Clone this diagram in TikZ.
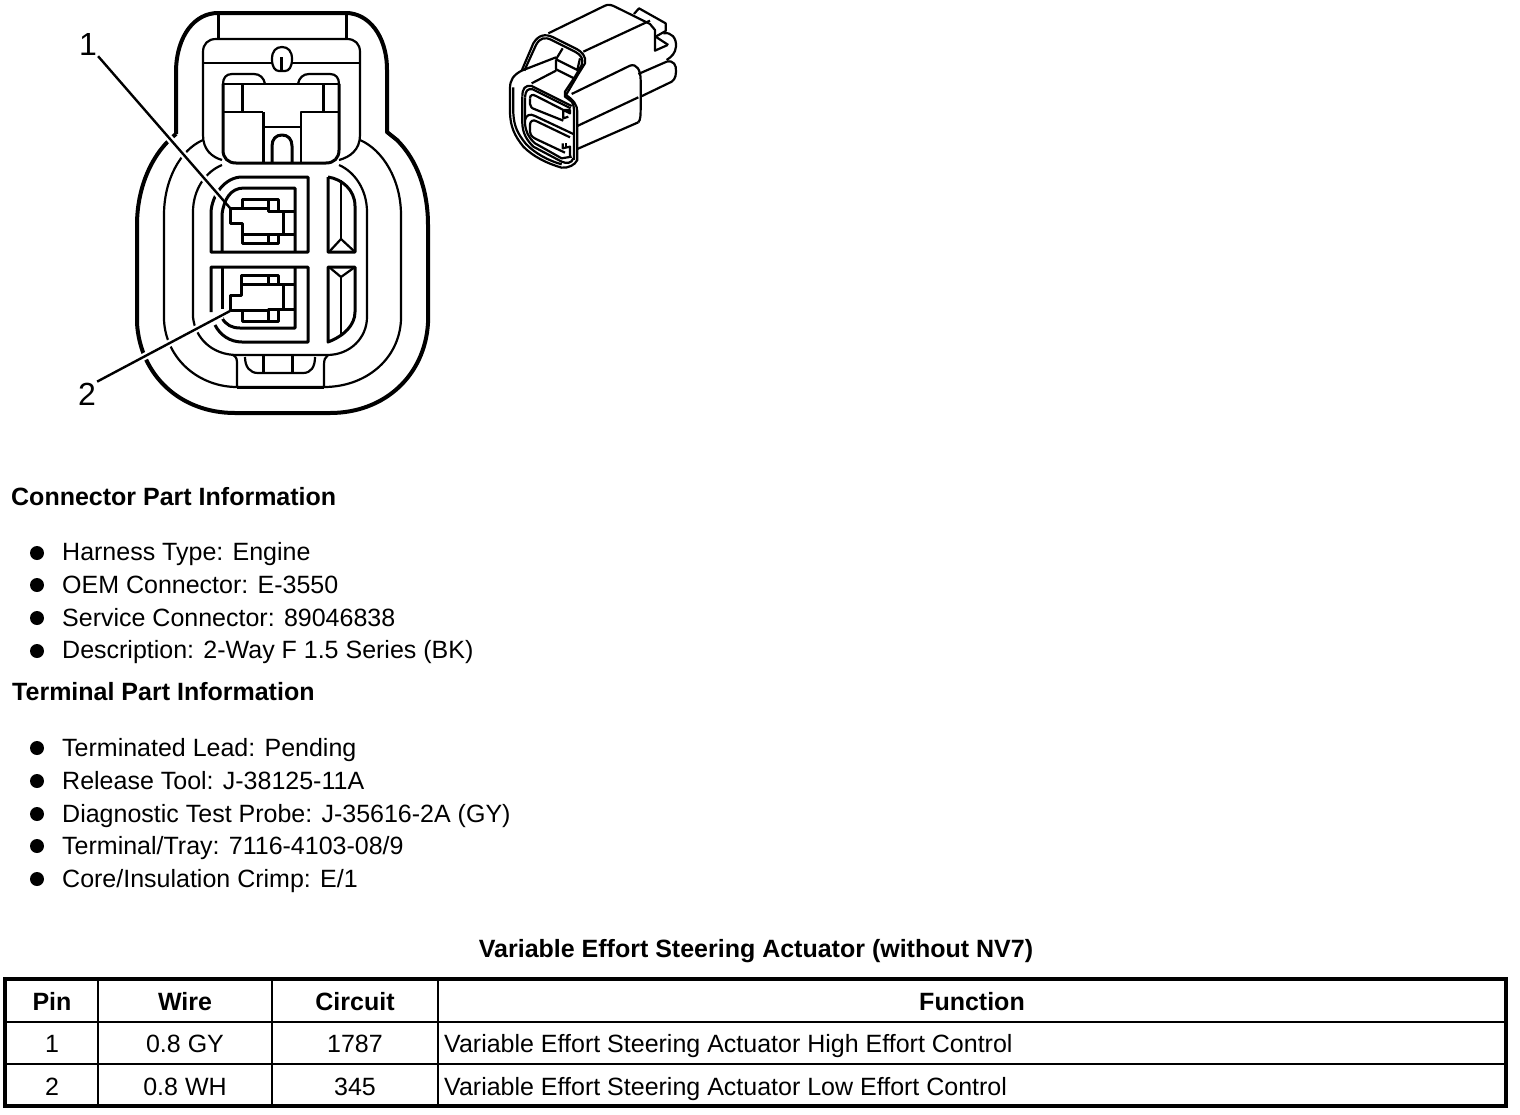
\documentclass[tikz,border=0pt]{standalone}
\usepackage{fontspec}
\usetikzlibrary{calc}
\setmainfont{Liberation Sans}
\begin{document}
\begin{tikzpicture}[x=1pt,y=-1pt]
\tikzstyle{thick_line} = [draw, line width=4pt, line join=round];
\tikzstyle{mid_line} = [draw, line width=3pt, line join=round];
\tikzstyle{thin_line} = [draw, line width=2.2pt, line join=round];
\tikzstyle{leader} = [draw, line width=2.4pt];
\tikzstyle{halo} = [draw=white, line width=7pt];
\tikzstyle{pin_label} = [inner sep=1pt, font=\fontsize{32}{32}\selectfont];
\tikzstyle{heading} = [anchor=base west, inner sep=0pt, font=\fontsize{25}{25}\selectfont\bfseries];
\tikzstyle{item} = [anchor=base west, inner sep=0pt, font=\fontsize{25}{25}\selectfont];
\tikzstyle{dot} = [circle, fill=black, inner sep=0pt, minimum size=14pt];
\tikzstyle{head_cell} = [anchor=base, inner sep=0pt, font=\fontsize{25}{25}\selectfont\bfseries];
\tikzstyle{cell} = [anchor=base, inner sep=0pt, font=\fontsize{25}{25}\selectfont];
\useasboundingbox (0,0) rectangle (1520,1114);

% outer shell
\path[thick_line] (176,134) -- (176,70) .. controls (177,35) and (195,13) .. (218,13) -- (346,13)
  .. controls (368,13) and (387,35) .. (387,70) -- (387,132) -- (397,140)
  .. controls (417,160) and (428,190) .. (428,225) -- (428,323)
  .. controls (425,375) and (385,413) .. (330,413) -- (235,413)
  .. controls (180,413) and (140,375) .. (137,323) -- (137,225)
  .. controls (137,190) and (150,155) .. (176,134);
\path[mid_line] (218,13) -- (218,39);
\path[mid_line] (346,13) -- (346,39);
% inner outlines
\path[thin_line] (203,140) .. controls (180,150) and (164,180) .. (164,215) -- (164,320)
  .. controls (166,360) and (200,387) .. (237,387);
\path[thin_line] (360,140) .. controls (383,150) and (401,180) .. (401,215) -- (401,320)
  .. controls (399,360) and (365,387) .. (324,387);
\path[thin_line] (222,165) .. controls (205,172) and (193,190) .. (193,212) -- (193,317)
  .. controls (195,338) and (212,355) .. (237,355) -- (327,355)
  .. controls (350,355) and (367,338) .. (367,317) -- (367,212)
  .. controls (367,190) and (355,172) .. (339,165);
% upper block
\path[thin_line] (222,160) .. controls (212,157) and (203,150) .. (203,135) -- (203,52)
  .. controls (203,44) and (208,39) .. (216,39) -- (347,39)
  .. controls (355,39) and (360,44) .. (360,52) -- (360,135)
  .. controls (360,150) and (350,157) .. (339,160);
\path[thin_line] (203,63) -- (272,63);
\path[thin_line] (292,63) -- (360,63);
\path[thin_line] (272,59) .. controls (272,51) and (276,47) .. (282,47)
  .. controls (288,47) and (292,51) .. (292,59) .. controls (292,67) and (289,71) .. (285,71)
  -- (279,71) .. controls (275,71) and (272,67) .. (272,59);
\path[mid_line] (281,57) -- (281,70);
% T block
\path[mid_line] (223,84) -- (223,150) .. controls (223,158) and (228,163) .. (236,163) -- (326,163)
  .. controls (334,163) and (339,158) .. (339,150) -- (339,84);
\path[thin_line] (223,84) .. controls (223,78) and (226,74) .. (232,74) -- (254,74)
  .. controls (260,74) and (264,78) .. (265,84);
\path[thin_line] (298,84) .. controls (299,78) and (303,74) .. (309,74) -- (330,74)
  .. controls (336,74) and (339,78) .. (339,84);
\path[thin_line] (223,84) -- (339,84);
\path[mid_line] (242,84) -- (242,112);
\path[mid_line] (323,84) -- (323,112);
\path[thin_line] (223,112) -- (263,112);
\path[mid_line] (263,112) -- (263,163);
\path[thin_line] (339,112) -- (301,112) -- (301,163);
\path[thin_line] (263,127) -- (301,127);
\path[mid_line] (272,163) -- (272,146) .. controls (272,139) and (276,135) .. (282,135)
  .. controls (288,135) and (292,139) .. (292,146) -- (292,163);
% upper cavity
\path[mid_line] (211,212) .. controls (212,195) and (225,177) .. (242,177) -- (308,177) -- (308,252) -- (211,252) -- cycle;
\path[mid_line] (222,252) -- (222,214) .. controls (224,200) and (230,188) .. (244,188) -- (295,188) -- (295,252);
\path[mid_line] (242,208) -- (242,199) -- (278,199) -- (278,211);
\path[mid_line] (230,208) -- (268,208) -- (268,211) -- (295,211);
\path[mid_line] (268,199) -- (268,211);
\path[mid_line] (230,208) -- (230,223) -- (242,223) -- (242,243) -- (278,243) -- (278,234);
\path[mid_line] (242,234) -- (295,234);
\path[mid_line] (268,234) -- (268,243);
\path[mid_line] (283,211) -- (283,234);
% lower cavity
\path[mid_line] (211,312) -- (211,267) -- (308,267) -- (308,342) -- (242,342) .. controls (230,342) and (220,335) .. (215,325);
\path[mid_line] (222,267) -- (222,309);
\path[mid_line] (295,267) -- (295,328) -- (240,328) .. controls (232,328) and (226,325) .. (222,318);
\path[mid_line] (241,284) -- (241,275) -- (278,275) -- (278,284);
\path[mid_line] (268,275) -- (268,284);
\path[mid_line] (241,284) -- (295,284);
\path[mid_line] (241,284) -- (241,295) -- (230,295) -- (230,310) -- (268,310) -- (268,309) -- (295,309);
\path[mid_line] (283,284) -- (283,309);
\path[mid_line] (242,311) -- (242,321) -- (278,321) -- (278,309);
\path[mid_line] (268,309) -- (268,321);
% side windows
\path[mid_line] (328,177) -- (328,252) -- (355,252) -- (355,206) .. controls (355,190) and (342,179) .. (328,177);
\path[thin_line] (341,180) -- (341,239);
\path[thin_line] (329,252) -- (341,239) -- (355,252);
\path[mid_line] (328,267) -- (328,342) .. controls (344,336) and (355,325) .. (355,312) -- (355,267) -- cycle;
\path[thin_line] (329,267) -- (341,277) -- (355,267);
\path[thin_line] (341,277) -- (341,335);
% bottom tab
\path[thin_line] (233,355) .. controls (237,357) and (237,360) .. (237,365) -- (237,387) -- (324,387) -- (324,365)
  .. controls (324,360) and (325,357) .. (328,355);
\path[mid_line] (237,387) -- (324,387);
\path[thin_line] (245,357) .. controls (245,367) and (250,373) .. (258,373) -- (303,373)
  .. controls (311,373) and (315,367) .. (315,357);
\path[mid_line] (263,355) -- (263,373);
\path[mid_line] (292,355) -- (292,373);

% pin leaders
\node [pin_label] (lbl1) at (88,44) {1};
\node [pin_label] (lbl2) at (87,394) {2};
\coordinate (pin1) at (230,208);
\coordinate (pin2) at (230,311);
\path[halo] (lbl1.south east) -- ($(lbl1.south east)!0.94!(pin1)$);
\path[halo] (lbl2.north east) -- ($(lbl2.north east)!0.94!(pin2)$);
\path[leader] (lbl1.south east) -- (pin1);
\path[leader] (lbl2.north east) -- (pin2);

% small view of the connector
\begin{scope}[shift={(490,0)},x=0.3333pt,y=-0.3333pt]
\path[thin_line] (95,212) .. controls (70,225) and (60,240) .. (60,265) -- (60,340)
  .. controls (62,380) and (72,405) .. (100,440) .. controls (130,470) and (170,490) .. (215,503)
  .. controls (235,505) and (255,495) .. (262,480) -- (262,335)
  .. controls (262,315) and (250,300) .. (228,285) -- (265,222) -- (285,190)
  .. controls (290,170) and (275,155) .. (260,147) -- (190,112) .. controls (165,100) and (145,105) .. (130,130) -- (95,212);
\path[thin_line] (70,262) -- (70,340) .. controls (72,378) and (82,400) .. (108,432)
  .. controls (135,460) and (175,482) .. (215,493);
\path[thin_line] (103,212) -- (138,135) .. controls (150,113) and (165,110) .. (185,120) -- (255,155)
  .. controls (275,167) and (280,175) .. (275,195) -- (255,230) -- (225,275) -- (225,290) -- (245,305)
  .. controls (252,315) and (252,325) .. (252,340) -- (252,480);
\path[thin_line] (97,290) .. controls (97,265) and (105,255) .. (125,258) -- (245,318);
\path[thin_line] (105,292) .. controls (107,272) and (112,265) .. (128,268) -- (242,325);
\path[thin_line] (97,290) -- (97,370) .. controls (98,400) and (110,420) .. (130,440) -- (215,485) .. controls (230,492) and (245,490) .. (250,475);
\path[thin_line] (105,292) -- (105,370) .. controls (107,395) and (115,412) .. (135,430) -- (215,475) -- (245,470);
\path[thin_line] (120,295) .. controls (120,285) and (128,282) .. (138,288) -- (240,340) -- (240,330) -- (220,330) -- (220,355) -- (235,350);
\path[thin_line] (120,295) -- (120,312) .. controls (121,320) and (125,325) .. (135,328) -- (220,362);
\path[thin_line] (105,360) .. controls (108,345) and (120,340) .. (135,348) -- (250,402);
\path[thin_line] (120,375) .. controls (120,362) and (130,358) .. (140,364) -- (240,412);
\path[thin_line] (120,375) -- (120,395) .. controls (122,408) and (128,412) .. (140,418) -- (225,458);
\path[thin_line] (218,430) -- (218,445) -- (240,440) -- (240,470);
\path[thin_line] (228,430) -- (228,445);
% body
\path[thin_line] (175,100) -- (345,17) .. controls (355,12) and (365,15) .. (375,20) -- (480,72) -- (495,90) -- (495,152) -- (533,135);
\path[thin_line] (432,42) -- (447,25) -- (527,70) -- (527,93) -- (497,110);
\path[thin_line] (280,155) -- (480,62);
\path[thin_line] (497,110) -- (535,135);
\path[thin_line] (520,100) .. controls (545,95) and (560,115) .. (558,140) .. controls (556,160) and (545,170) .. (530,180);
\path[thin_line] (445,222) -- (530,185) .. controls (550,180) and (560,195) .. (558,215) .. controls (558,235) and (550,245) .. (535,250) -- (452,290);
\path[thin_line] (245,282) -- (420,197) .. controls (440,190) and (452,210) .. (452,240) -- (452,320) .. controls (452,345) and (452,360) .. (445,367);
\path[thin_line] (262,378) -- (445,292);
\path[thin_line] (262,447) -- (445,367);
% latch
\path[thin_line] (95,212) -- (198,172);
\path[thin_line] (125,250) -- (198,212);
\path[thin_line] (198,178) -- (198,208) -- (258,238);
\path[thin_line] (198,178) -- (218,145);
\path[thin_line] (198,178) -- (262,210) -- (270,175);
\end{scope}

% connector part information
\node [heading] (conn_head) at (11,505) {Connector Part Information};
\node [dot] (dot1) at (37,553) {};
\node [item] (harness) at (62,560) {Harness Type: Engine};
\node [dot] (dot2) at (37,585) {};
\node [item] (oem) at (62,593) {OEM Connector: E-3550};
\node [dot] (dot3) at (37,618) {};
\node [item] (service) at (62,626) {Service Connector: 89046838};
\node [dot] (dot4) at (37,651) {};
\node [item] (descr) at (62,658) {Description: 2-Way F 1.5 Series (BK)};

% terminal part information
\node [heading] (term_head) at (12,700) {Terminal Part Information};
\node [dot] (dot5) at (37,748) {};
\node [item] (lead) at (62,756) {Terminated Lead: Pending};
\node [dot] (dot6) at (37,781) {};
\node [item] (tool) at (62,789) {Release Tool: J-38125-11A};
\node [dot] (dot7) at (37,814) {};
\node [item] (probe) at (62,822) {Diagnostic Test Probe: J-35616-2A (GY)};
\node [dot] (dot8) at (37,846) {};
\node [item] (tray) at (62,854) {Terminal/Tray: 7116-4103-08/9};
\node [dot] (dot9) at (37,879) {};
\node [item] (crimp) at (62,887) {Core/Insulation Crimp: E/1};

% pin table
\node [head_cell] (title) at (756,957) {Variable Effort Steering Actuator (without NV7)};
\draw [line width=3.6pt] (5,979) rectangle (1506,1106);
\draw [line width=2.4pt] (5,1022) -- (1506,1022);
\draw [line width=2.4pt] (5,1064) -- (1506,1064);
\draw [line width=2.4pt] (98,979) -- (98,1106);
\draw [line width=2.4pt] (272,979) -- (272,1106);
\draw [line width=2.4pt] (438,979) -- (438,1106);
\node [head_cell] (h_pin) at (52,1010) {Pin};
\node [head_cell] (h_wire) at (185,1010) {Wire};
\node [head_cell] (h_circuit) at (355,1010) {Circuit};
\node [head_cell] (h_func) at (972,1010) {Function};
\node [cell] (pin_a) at (52,1052) {1};
\node [cell] (wire_a) at (185,1052) {0.8 GY};
\node [cell] (circuit_a) at (355,1052) {1787};
\node [item] (func_a) at (444,1052) {Variable Effort Steering Actuator High Effort Control};
\node [cell] (pin_b) at (52,1095) {2};
\node [cell] (wire_b) at (185,1095) {0.8 WH};
\node [cell] (circuit_b) at (355,1095) {345};
\node [item] (func_b) at (444,1095) {Variable Effort Steering Actuator Low Effort Control};
\end{tikzpicture}
\end{document}
